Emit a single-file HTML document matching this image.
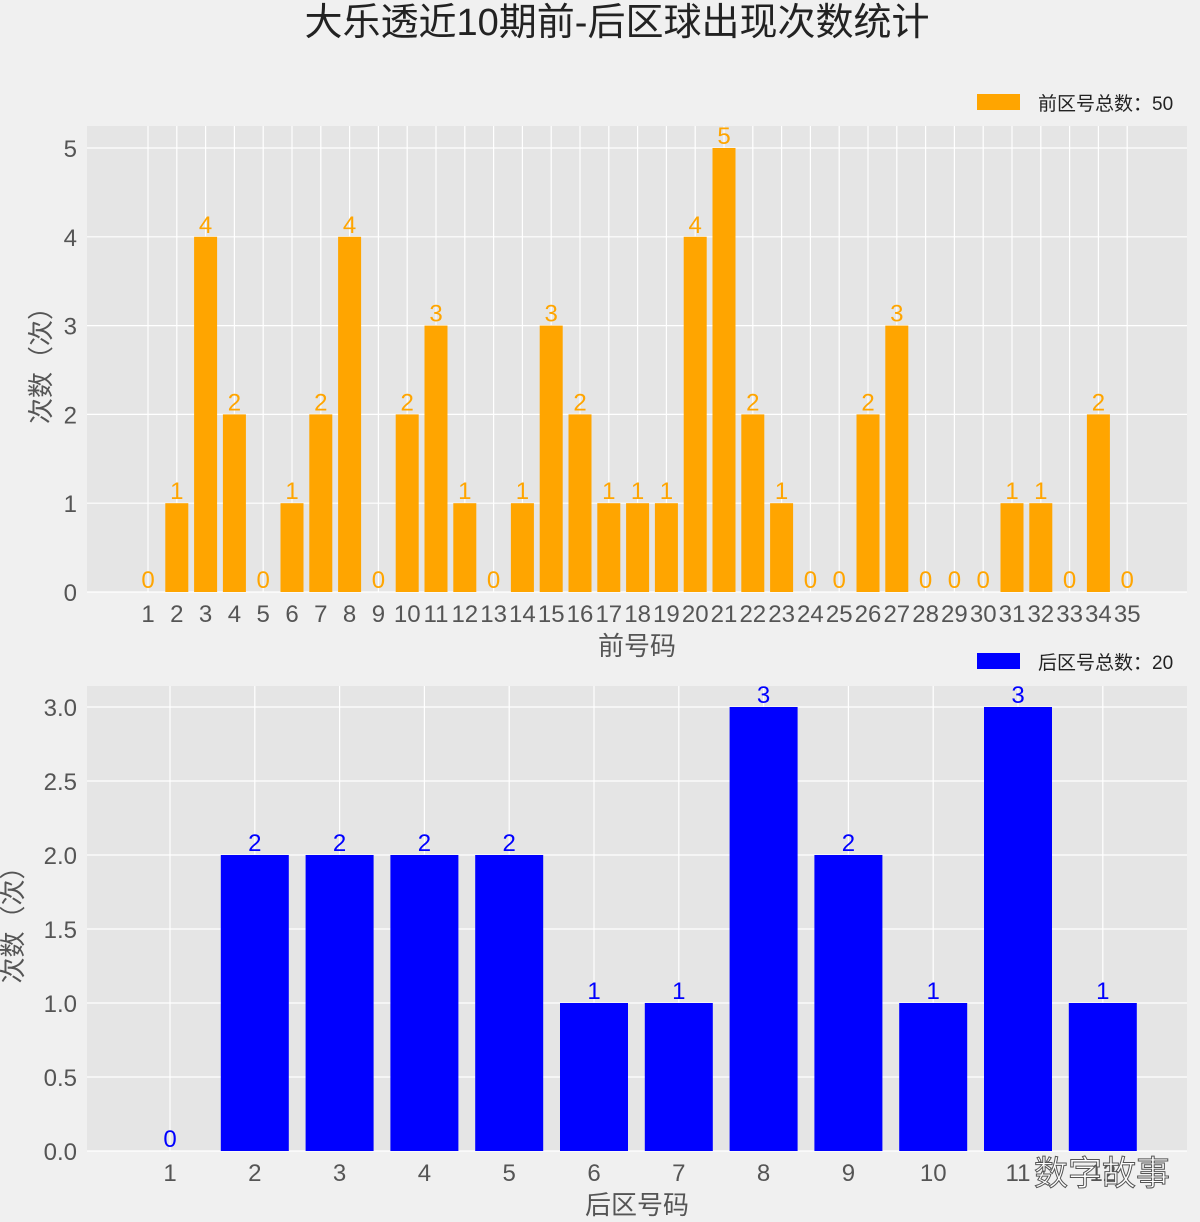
<!DOCTYPE html>
<html><head><meta charset="utf-8"><style>
body{margin:0;background:#f0f0f0;}
svg text{font-family:"Liberation Sans","Noto Sans CJK SC",sans-serif;}
</style></head><body>
<svg id="c" width="1200" height="1217" xmlns="http://www.w3.org/2000/svg">
<rect width="1200" height="1217" fill="#f0f0f0"/>
<text x="617" y="35" font-size="38" text-anchor="middle" fill="#222">大乐透近10期前-后区球出现次数统计</text>
<g id="top"></g>
<g id="bot"></g>
<text x="1170" y="1185" font-size="34" text-anchor="end" fill="#fff" stroke="#555" stroke-width="1">数字故事</text>
</svg>
<script>
const frontCats=[];for(let i=1;i<=35;i++)frontCats.push(i);
const frontVals=[0,1,4,2,0,1,2,4,0,2,3,1,0,1,3,2,1,1,1,4,5,2,1,0,0,2,3,0,0,0,1,1,0,2,0];
const frontTicks=[0,1,2,3,4,5];
const frontTickLabels=["0","1","2","3","4","5"];
const backCats=[1,2,3,4,5,6,7,8,9,10,11,12];
const backVals=[0,2,2,2,2,1,1,3,2,1,3,1];
const backTicks=[0,0.5,1,1.5,2,2.5,3];
const backTickLabels=["0.0","0.5","1.0","1.5","2.0","2.5","3.0"];
const NS="http://www.w3.org/2000/svg";
function mk(parent,tag,attrs,txt){const e=document.createElementNS(NS,tag);for(const k in attrs)e.setAttribute(k,attrs[k]);if(txt!==undefined)e.textContent=txt;parent.appendChild(e);return e;}
function draw(g,cfg){
  const {cats,vals,ticks,tickLabels,L,R,T,B,x,y,bw,color,xlabel,legend,legY,fs,tfs,labelFs}=cfg;
  let e=mk(g,'rect',{x:L,y:T,width:R-L,height:B-T,fill:'#e5e5e5'});
  
  
  ticks.forEach((t,i)=>{
    e=mk(g,'line',{x1:L,x2:R,y1:y(t),y2:y(t),stroke:'#fff','stroke-width':1.2});
    
    
    e=mk(g,'text',{x:L-10,y:y(t)+9,'font-size':tfs,'text-anchor':'end',fill:'#555'},tickLabels[i]);
    
    
  });
  cats.forEach((c,i)=>{
    e=mk(g,'line',{x1:x(c),x2:x(c),y1:T,y2:B,stroke:'#fff','stroke-width':1.2});
    
    
  });
  cats.forEach((c,i)=>{
    const v=vals[i];
    e=mk(g,'rect',{x:x(c)-bw/2,y:y(v),width:bw,height:y(0)-y(v),fill:color});
    
    
    e=mk(g,'text',{x:x(c),y:y(v)-4,'font-size':fs,'text-anchor':'middle',fill:color},String(v));
    
    
    e=mk(g,'text',{x:x(c),y:B+30,'font-size':tfs,'text-anchor':'middle',fill:'#555'},String(c));
    
    
  });
  e=mk(g,'text',{x:(L+R)/2,y:B+63,'font-size':labelFs,'text-anchor':'middle',fill:'#555'},xlabel);
  
  
  e=mk(g,'text',{x:0,y:0,'font-size':labelFs,'text-anchor':'middle',fill:'#555',transform:`translate(${cfg.yx},${(T+B)/2}) rotate(-90)`},'次数（次）');
  
  
  e=mk(g,'rect',{x:977,y:legY-8,width:43,height:16,fill:color});
  
  
  e=mk(g,'text',{x:1038,y:legY+8,'font-size':19,fill:'#222'},legend);
  
  
}
const tL=87,tR=1187,tT=126,tB=592;
draw(document.getElementById('top'),{cats:frontCats,vals:frontVals,ticks:frontTicks,tickLabels:frontTickLabels,
  L:tL,R:tR,T:tT,B:tB,x:c=>148+(c-1)*28.8,y:v=>tB-v*88.8,bw:23,color:'#ffa500',
  xlabel:'前号码',legend:'前区号总数：50',legY:102,fs:24,tfs:24,labelFs:26,yx:50});
const bL=87,bR=1187,bT=686,bB=1151;
draw(document.getElementById('bot'),{cats:backCats,vals:backVals,ticks:backTicks,tickLabels:backTickLabels,
  L:bL,R:bR,T:bT,B:bB,x:c=>170+(c-1)*84.8,y:v=>bB-v*148,bw:68,color:'#0000ff',
  xlabel:'后区号码',legend:'后区号总数：20',legY:661,fs:24,tfs:24,labelFs:26,yx:22});
</script>
</body></html>
